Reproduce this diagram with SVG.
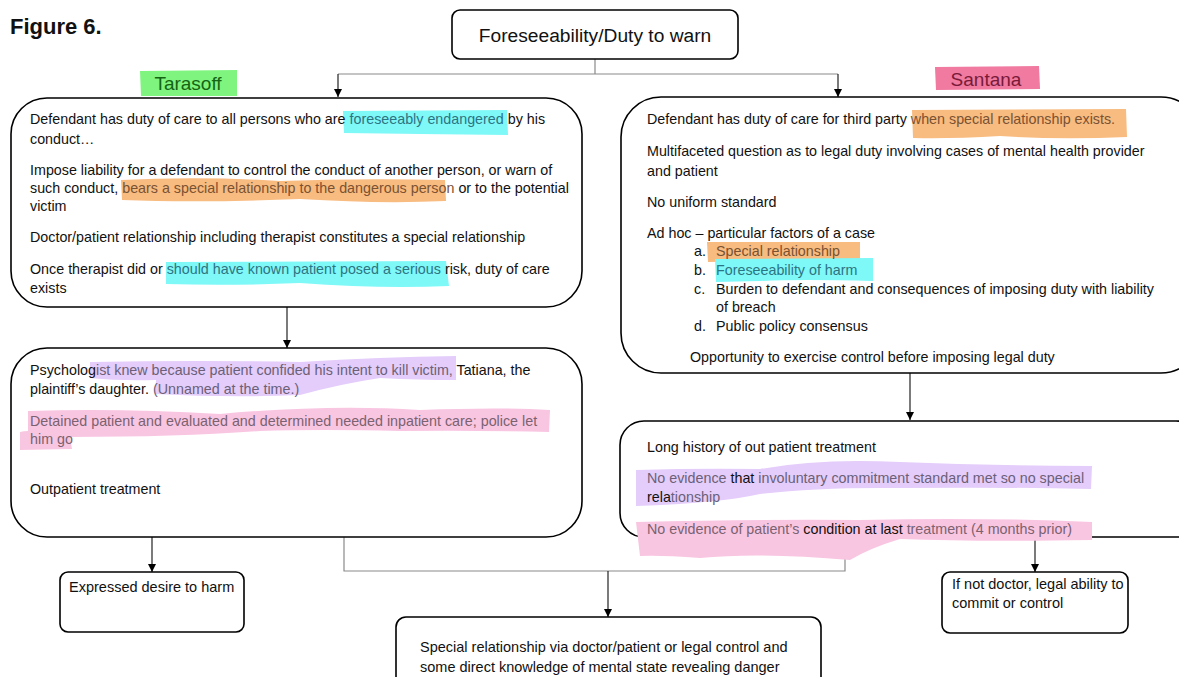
<svg xmlns="http://www.w3.org/2000/svg" width="1179" height="677" viewBox="0 0 1179 677">
  <defs>
    <marker id="arr" viewBox="0 0 10 10" refX="10" refY="5" markerWidth="8" markerHeight="8" markerUnits="userSpaceOnUse" orient="auto">
      <path d="M0,0 L10,5 L0,10 z" fill="#000"/>
    </marker>
    <style>
      .box { fill: #fff; stroke: #000; stroke-width: 1.6; }
      .t { font-family: "Liberation Sans", Arial, sans-serif; font-size: 14.3px; fill: #111; }
      .tn { font-family: "Liberation Sans", Arial, sans-serif; font-size: 14.5px; fill: #111; }
      .conn { fill: none; stroke: #8a8a8a; stroke-width: 1.2; }
      .connk { fill: none; stroke: #222; stroke-width: 1.2; }
      .cy { fill: #7ff8f8; }
      .or { fill: #f8bb80; }
      .pu { fill: #e4cdfa; }
      .pk { fill: #f9c6e2; }
      .hcy { fill: #2d7482; }
      .hor { fill: #7a5232; }
      .hpu { fill: #6b6078; }
      .hpk { fill: #7a6270; }
    </style>
  </defs>

  <rect width="1179" height="677" fill="#fff"/>

  <text x="10" y="34" font-family="Liberation Sans, Arial, sans-serif" font-size="22" font-weight="bold" fill="#111">Figure 6.</text>

  <!-- connectors -->
  <g id="connectors">
    <path class="conn" d="M595,59 V74 M338,74 H838"/>
    <path class="connk" d="M338,74 V97" marker-end="url(#arr)"/>
    <path class="connk" d="M838,74 V97" marker-end="url(#arr)"/>
    <path class="connk" d="M287,307 V348" marker-end="url(#arr)"/>
    <path class="connk" d="M910,373 V420" marker-end="url(#arr)"/>
    <path class="connk" d="M152,537 V572" marker-end="url(#arr)"/>
    <path class="conn" d="M344,537 V571 H845 V537"/>
    <path class="connk" d="M608,571 V617" marker-end="url(#arr)"/>
    <path class="connk" d="M1035,537 V572" marker-end="url(#arr)"/>
  </g>

  <!-- top question -->
  <g id="node-duty">
    <rect class="box" x="452" y="10" width="286" height="49" rx="8"/>
    <text x="595" y="42" text-anchor="middle" font-family="Liberation Sans, Arial, sans-serif" font-size="19.2" fill="#111">Foreseeability/Duty to warn</text>
  </g>

  <!-- case labels -->
  <g id="label-tarasoff">
    <path d="M140,71 L237,70 L237,96 L141,96 z" fill="#7ff57f"/>
    <text x="188" y="90" text-anchor="middle" font-family="Liberation Sans, Arial, sans-serif" font-size="19" fill="#146414">Tarasoff</text>
  </g>
  <g id="label-santana">
    <path d="M935,67 L1039,66 L1040,89 L936,90 z" fill="#f07aa0"/>
    <text x="986" y="86" text-anchor="middle" font-family="Liberation Sans, Arial, sans-serif" font-size="19" fill="#7a1a3a">Santana</text>
  </g>

  <!-- Tarasoff holding -->
  <g id="node-tarasoff-rule">
    <rect class="box" x="11" y="98" width="571" height="209" rx="36"/>
    <path class="cy" d="M343,111 L507,110 L508,135 L420,134 L344,133 z"/>
    <path class="or" d="M121,180 Q200,176 280,181 Q360,178 445,180 L446,201 Q380,204 300,199 Q200,203 122,200 z"/>
    <path class="cy" d="M166,262 L446,261 L449,286 Q380,289 300,283 Q230,286 166,284 z"/>
    <text class="t" x="30" y="124">Defendant has duty of care to all persons who are <tspan class="hcy">foreseeably endangered</tspan> by his</text>
    <text class="t" x="30" y="144">conduct…</text>
    <text class="t" x="30" y="175">Impose liability for a defendant to control the conduct of another person, or warn of</text>
    <text class="t" x="30" y="193">such conduct, <tspan class="hor">bears a special relationship to the dangerous person</tspan> or to the potential</text>
    <text class="t" x="30" y="211">victim</text>
    <text class="t" x="30" y="242">Doctor/patient relationship including therapist constitutes a special relationship</text>
    <text class="t" x="30" y="274">Once therapist did or <tspan class="hcy">should have known patient posed a serious</tspan> risk, duty of care</text>
    <text class="t" x="30" y="293">exists</text>
  </g>

  <!-- Tarasoff facts -->
  <g id="node-tarasoff-facts">
    <rect class="box" x="11" y="348" width="571" height="189" rx="36"/>
    <path class="pu" d="M90,362 Q200,360 300,362 Q380,357 456,356 L456,380 Q420,380 380,378 Q340,384 300,395 Q230,398 155,394 L156,380 Q120,381 90,378 z"/>
    <path class="pk" d="M28,411 Q120,408 220,414 Q330,404 420,410 Q500,407 550,410 L549,432 Q470,430 400,431 Q320,429 260,431 Q180,437 70,437 L72,449 L20,450 L20,432 Q24,431 28,431 z"/>
    <text class="t" x="30" y="375">Psycholog<tspan class="hpu">ist knew because patient confided his intent to kill victim,</tspan> Tatiana, the</text>
    <text class="t" x="30" y="394">plaintiff’s daughter. <tspan class="hpu">(Unnamed at the time.)</tspan></text>
    <text class="t" x="30" y="426"><tspan class="hpk">Detained patient and evaluated and determined needed inpatient care; police let</tspan></text>
    <text class="t" x="30" y="444"><tspan class="hpk">him go</tspan></text>
    <text class="t" x="30" y="494">Outpatient treatment</text>
  </g>

  <!-- Santana holding -->
  <g id="node-santana-rule">
    <rect class="box" x="621" y="97" width="580" height="276" rx="40"/>
    <path class="or" d="M912,110 L1126,109 L1127,137 Q1060,140 1000,136 Q950,139 913,138 z"/>
    <path class="or" d="M707,242 L860,242 L860,264 Q800,263 760,261 L708,262 z"/>
    <path class="cy" d="M715,259 L873,258 L873,281 Q800,279 760,281 L716,282 z"/>
    <text class="t" x="647" y="124">Defendant has duty of care for third party <tspan class="hor">when special relationship exists.</tspan></text>
    <text class="t" x="647" y="156">Multifaceted question as to legal duty involving cases of mental health provider</text>
    <text class="t" x="647" y="176">and patient</text>
    <text class="t" x="647" y="207">No uniform standard</text>
    <text class="t" x="647" y="238">Ad hoc – particular factors of a case</text>
    <text class="t" x="694" y="256">a.</text><text class="t hor" x="716" y="256">Special relationship</text>
    <text class="t" x="694" y="275">b.</text><text class="t hcy" x="716" y="275">Foreseeability of harm</text>
    <text class="t" x="694" y="294">c.</text><text class="t" x="716" y="294">Burden to defendant and consequences of imposing duty with liability</text>
    <text class="t" x="716" y="312">of breach</text>
    <text class="t" x="694" y="331">d.</text><text class="t" x="716" y="331">Public policy consensus</text>
    <text class="t" x="690" y="362">Opportunity to exercise control before imposing legal duty</text>
  </g>

  <!-- Santana facts -->
  <g id="node-santana-facts">
    <rect class="box" x="620" y="421" width="580" height="116" rx="24"/>
    <path class="pk" d="M636,522 Q760,519 860,520 Q980,517 1092,522 L1092,540 Q980,542 900,539 Q870,548 850,560 Q760,552 700,558 Q660,555 640,556 z"/>
    <path class="pu" d="M636,470 Q700,468 760,469 Q820,458 900,462 Q1000,466 1092,466 L1091,489 Q1000,487 900,488 Q820,487 760,494 Q720,503 636,506 z"/>
    <text class="t" x="647" y="452">Long history of  out patient treatment</text>
    <text class="t" x="647" y="483"><tspan class="hpu">No evidence</tspan> that <tspan class="hpu">involuntary commitment standard met so no special</tspan></text>
    <text class="t" x="647" y="502">rela<tspan class="hpu">tionship</tspan></text>
    <text class="t" x="647" y="534"><tspan class="hpk">No evidence of patient’s</tspan> condition at last <tspan class="hpk">treatment (4 months prior)</tspan></text>
  </g>

  <!-- outcome boxes -->
  <g id="node-desire">
    <rect class="box" x="60" y="572" width="184" height="60" rx="8"/>
    <text class="tn" x="69" y="592">Expressed desire to harm</text>
  </g>

  <g id="node-ability">
    <rect class="box" x="942" y="572" width="186" height="61" rx="8"/>
    <text class="tn" x="952" y="589">If not doctor, legal ability to</text>
    <text class="tn" x="952" y="608">commit or control</text>
  </g>

  <g id="node-special">
    <rect class="box" x="396" y="617" width="425" height="80" rx="10"/>
    <text class="tn" x="420" y="652">Special relationship via doctor/patient or legal control and</text>
    <text class="tn" x="420" y="672">some direct knowledge of mental state revealing danger</text>
  </g>
</svg>
